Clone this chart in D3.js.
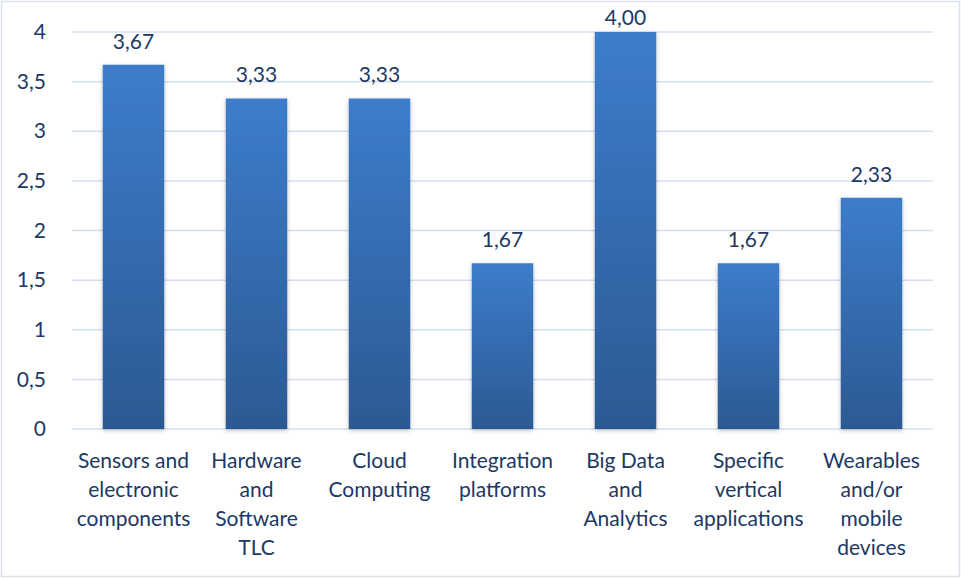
<!DOCTYPE html>
<html>
<head>
<meta charset="utf-8">
<script src="https://cdn.jsdelivr.net/npm/d3@7"></script>
<style>
  body { margin: 0; background: #fff; }
  svg { font-family: Lato, "Open Sans", sans-serif; }
</style>
</head>
<body>
<div id="chart"></div>
<script>
// Kategorien (mehrzeilig) und Werte
const categories = [
  ["Sensors and", "electronic", "components"],
  ["Hardware", "and", "Software", "TLC"],
  ["Cloud", "Computing"],
  ["Integration", "platforms"],
  ["Big Data", "and", "Analytics"],
  ["Specific", "vertical", "applications"],
  ["Wearables", "and/or", "mobile", "devices"]
];
const values = [3.67, 3.33, 3.33, 1.67, 4.00, 1.67, 2.33];
const yTicks = [0, 0.5, 1, 1.5, 2, 2.5, 3, 3.5, 4];

const width = 961, height = 578;
const margin = { top: 32, right: 28, bottom: 149, left: 72 };
const textColor = "#203864";
const fontSize = "21px";

const svg = d3.select("#chart").append("svg")
  .attr("width", width)
  .attr("height", height);

// Rahmen
svg.append("rect")
  .attr("x", 1.5).attr("y", 1.5)
  .attr("width", width - 3).attr("height", height - 3)
  .attr("fill", "#fff")
  .attr("stroke", "#d9e1ee")
  .attr("stroke-width", 1.5);

const defs = svg.append("defs");
const grad = defs.append("linearGradient")
  .attr("id", "barGrad")
  .attr("x1", 0).attr("y1", 0).attr("x2", 0).attr("y2", 1);
grad.append("stop").attr("offset", "0%").attr("stop-color", "#3c7dcb");
grad.append("stop").attr("offset", "100%").attr("stop-color", "#2c5993");

const shadow = defs.append("filter").attr("id", "shadow")
  .attr("x", "-20%").attr("y", "-5%").attr("width", "140%").attr("height", "110%");
shadow.append("feDropShadow")
  .attr("dx", 0).attr("dy", 1.5).attr("stdDeviation", 2)
  .attr("flood-color", "#000").attr("flood-opacity", 0.25);

const x = d3.scaleBand()
  .domain(d3.range(categories.length))
  .range([margin.left, width - margin.right])
  .paddingInner(0.5)
  .paddingOuter(0.25);

const y = d3.scaleLinear()
  .domain([0, 4])
  .range([height - margin.bottom, margin.top]);

// Gitterlinien
svg.append("g")
  .selectAll("line")
  .data(yTicks)
  .enter().append("line")
  .attr("x1", margin.left)
  .attr("x2", width - margin.right)
  .attr("y1", d => y(d))
  .attr("y2", d => y(d))
  .attr("stroke", "#d5dff0")
  .attr("stroke-width", 1.5);

// Y-Achse (nur Beschriftungen)
const yAxis = svg.append("g")
  .attr("transform", `translate(${margin.left - 23},0)`)
  .call(d3.axisLeft(y).tickValues(yTicks).tickSize(0)
    .tickFormat(d => String(d).replace(".", ",")));
yAxis.select(".domain").remove();
yAxis.selectAll("text")
  .attr("fill", textColor)
  .style("font-size", fontSize)
  .style("font-family", "Lato, 'Open Sans', sans-serif");

// Balken
svg.append("g")
  .selectAll("rect")
  .data(values)
  .enter().append("rect")
  .attr("x", (d, i) => x(i))
  .attr("y", d => y(d))
  .attr("width", x.bandwidth())
  .attr("height", d => y(0) - y(d))
  .attr("fill", "url(#barGrad)")
  .attr("filter", "url(#shadow)");

// Wertbeschriftungen (oben begrenzt, wie im Original)
svg.append("g")
  .selectAll("text")
  .data(values)
  .enter().append("text")
  .attr("x", (d, i) => x(i) + x.bandwidth() / 2)
  .attr("y", d => Math.max(y(d) - 16, 25))
  .attr("text-anchor", "middle")
  .attr("fill", textColor)
  .style("font-size", fontSize)
  .text(d => d.toFixed(2).replace(".", ","));

// Kategorienbeschriftungen
const labels = svg.append("g")
  .selectAll("text")
  .data(categories)
  .enter().append("text")
  .attr("text-anchor", "middle")
  .attr("fill", textColor)
  .style("font-size", fontSize);

labels.selectAll("tspan")
  .data((d, i) => d.map(line => ({ line, i })))
  .enter().append("tspan")
  .attr("x", d => x(d.i) + x.bandwidth() / 2)
  .attr("y", (d, j) => y(0) + 39 + j * 29)
  .text(d => d.line);
</script>
</body>
</html>
